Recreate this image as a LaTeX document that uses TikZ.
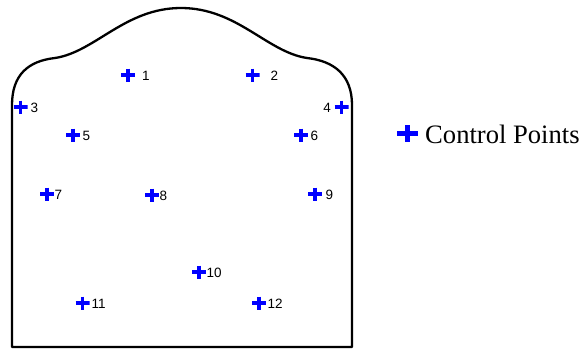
\documentclass[tikz,border=0pt]{standalone}
\usepackage{fontspec}
\setmainfont{Liberation Serif}
\newfontfamily\lblfont{Liberation Sans}
\begin{document}
\begin{tikzpicture}[x=1pt,y=-1pt,
  cp/.style={inner sep=0pt,minimum width=14pt,minimum height=13pt,
    path picture={\draw[blue,line width=3.2pt]
      (path picture bounding box.north) -- (path picture bounding box.south)
      (path picture bounding box.west) -- (path picture bounding box.east);}},
  cpbig/.style={inner sep=0pt,minimum width=21pt,minimum height=17pt,
    path picture={\draw[blue,line width=4.2pt]
      (path picture bounding box.north) -- (path picture bounding box.south)
      (path picture bounding box.west) -- (path picture bounding box.east);}},
  lbl/.style={inner sep=0pt,anchor=west,font=\lblfont\fontsize{13.5}{13.5}\selectfont},
  outline/.style={draw=black,line width=2.3pt,line join=round}]
\useasboundingbox (0,0) rectangle (585,349);
% outline
\draw[outline] (12,347) -- (12,105)
  .. controls (12,75) and (28,61) .. (55,58)
  .. controls (95,52) and (125,8) .. (181,8)
  .. controls (237,8) and (267,52) .. (307,58)
  .. controls (334,61) and (352,75) .. (352,105)
  -- (352,347) -- cycle;
% control points
\node[cp] (p1) at (128,75) {};
\node[cp] (p2) at (252.5,75) {};
\node[cp] (p3) at (20.5,107) {};
\node[cp] (p4) at (341.5,107) {};
\node[cp] (p5) at (73,135) {};
\node[cp] (p6) at (301,135) {};
\node[cp] (p7) at (47,194) {};
\node[cp] (p8) at (152,195) {};
\node[cp] (p9) at (315,194) {};
\node[cp] (p10) at (199,272) {};
\node[cp] (p11) at (82.5,303) {};
\node[cp] (p12) at (259,303) {};
% labels
\node[lbl] (l1) at (142,75.5) {1};
\node[lbl] (l2) at (270.5,75.5) {2};
\node[lbl] (l3) at (30.5,107.5) {3};
\node[lbl,anchor=east] (l4) at (331,107.5) {4};
\node[lbl] (l5) at (82.5,135.5) {5};
\node[lbl] (l6) at (310.5,135.5) {6};
\node[lbl] (l7) at (54.5,195) {7};
\node[lbl] (l8) at (159.5,195.5) {8};
\node[lbl] (l9) at (325.5,195) {9};
\node[lbl] (l10) at (206.5,273) {10};
\node[lbl] (l11) at (91.5,304) {11};
\node[lbl] (l12) at (267.5,304) {12};
% legend
\node[cpbig] (lg) at (407.5,133.5) {};
\node[inner sep=0pt,anchor=base west,font=\fontsize{26.6}{26.6}\selectfont] (lgt) at (425,143) {Control Points};
\end{tikzpicture}
\end{document}
